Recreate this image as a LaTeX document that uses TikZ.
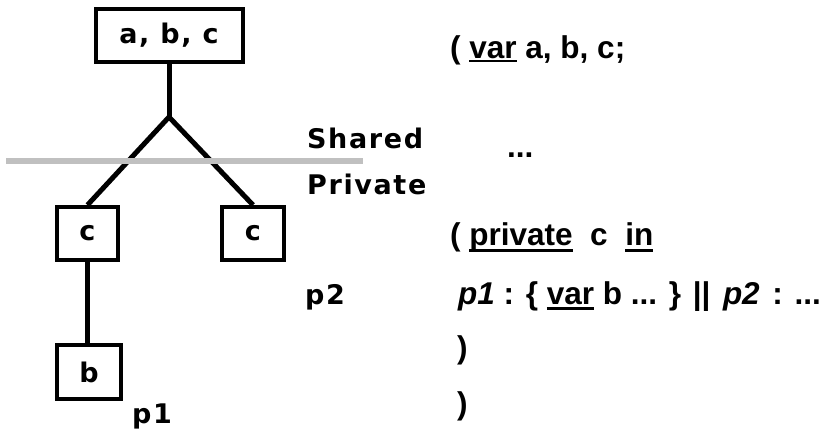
\documentclass[tikz,border=0pt]{standalone}
\usepackage{fontspec}
\setmainfont{Liberation Sans}
\newfontfamily\pixfont{DejaVu Sans}[LetterSpace=6]
\newcommand\myul[2][2pt]{\setbox0\hbox{#2}\rlap{\rule[\dimexpr-#1-2.5pt\relax]{\wd0}{2.5pt}}\box0\relax}
\tikzset{
  box/.style={draw, line width=4pt, inner sep=0pt, font=\pixfont\bfseries\fontsize{27}{30}\selectfont},
  branch/.style={line width=5pt},
  pix/.style={anchor=base west, inner sep=0pt, font=\pixfont\bfseries\fontsize{27}{30}\selectfont},
  code/.style={anchor=base west, inner sep=0pt, font=\bfseries\fontsize{31.5}{36}\selectfont},
}
\begin{document}
\begin{tikzpicture}[x=1pt,y=-1pt]
\useasboundingbox (0,0) rectangle (825,432);
% tree
\node[box, minimum width=147pt, minimum height=53pt] (top) at (169,35.5) {a, b, c};
\node[box, minimum width=61pt, minimum height=53pt] (cl) at (87.5,233.5) {c};
\node[box, minimum width=62pt, minimum height=53pt] (cr) at (253,233.5) {c};
\node[box, minimum width=64pt, minimum height=54pt] (b) at (89,372) {b};
\coordinate (j) at (169,117);
\draw[branch] (top.south) -- (j);
\draw[branch] (j) -- (cl.north);
\draw[branch] (j) -- (cr.north);
\draw[branch] (cl.south) -- (cl.south |- b.north);
% separator
\draw[line width=6pt, color={rgb,255:red,192;green,192;blue,192}] (6,161) -- (363,161);
% labels
\node[pix] (shared) at (307,148) {Shared};
\node[pix] (private) at (307,194) {Private};
\node[pix] (p2) at (305,304) {p2};
\node[pix] (p1) at (132,423) {p1};
% code
\node[code] (l1) at (450,58) {( \myul[1.5pt]{var} a, b, c;};
\node[code] (l2) at (507,157) {...};
\node[code] (l3) at (450,245) {( \myul[4pt]{private}\ \ c\ \ \myul[4pt]{in}};
\node[code] (l4) at (458,304) {\textit{p1} : \{ \myul[3pt]{var} b ... \} ||\hspace{0.4em}\textit{p2}\hspace{0.4em}: ...};
\node[code] (l5) at (457,358) {)};
\node[code] (l6) at (457,414) {)};
\end{tikzpicture}
\end{document}
